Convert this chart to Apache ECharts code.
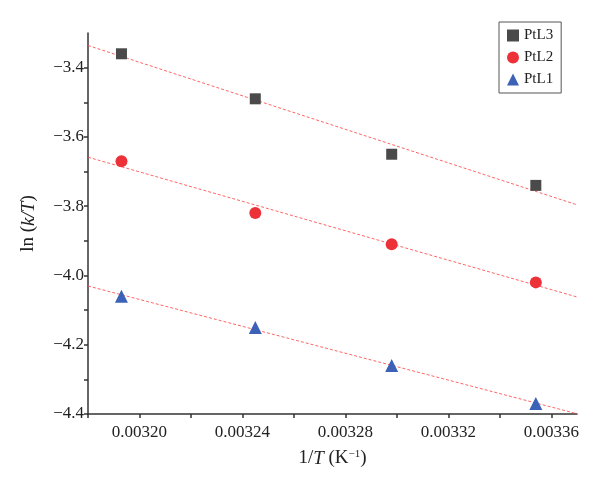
<!DOCTYPE html>
<html lang="en">
<head>
    <meta charset="UTF-8">
    <title>ln(k/T) vs 1/T</title>
    <style>
        html, body { margin: 0; padding: 0; background: #fff; }
        #main { width: 600px; height: 487px; }
    </style>
    <script src="https://cdn.jsdelivr.net/npm/echarts@6/dist/echarts.min.js"></script>
</head>
<body>
    <div id="main"></div>
    <script>
        // data
        var invT = [0.003193, 0.003245, 0.003298, 0.003354];
        var ptl3 = [-3.36, -3.49, -3.65, -3.74];
        var ptl2 = [-3.67, -3.82, -3.91, -4.02];
        var ptl1 = [-4.06, -4.15, -4.26, -4.37];

        var xMin = 0.00318, xMax = 0.00337;
        var font = "'Liberation Serif', 'DejaVu Serif', serif";

        function pairs(ys) {
            return ys.map(function (y, i) { return [invT[i], y]; });
        }

        // least squares line across the x range
        function fit(ys) {
            var n = ys.length, mx = 0, my = 0;
            for (var i = 0; i < n; i++) { mx += invT[i] / n; my += ys[i] / n; }
            var sxy = 0, sxx = 0;
            for (var j = 0; j < n; j++) {
                sxy += (invT[j] - mx) * (ys[j] - my);
                sxx += (invT[j] - mx) * (invT[j] - mx);
            }
            var k = sxy / sxx, b = my - k * mx;
            return [[xMin, k * xMin + b], [xMax, k * xMax + b]];
        }

        function fitLine(ys) {
            return {
                type: 'line',
                data: fit(ys),
                showSymbol: false,
                silent: true,
                z: 1,
                lineStyle: { color: '#ff4a4a', width: 1, type: [3, 2], opacity: 0.85 }
            };
        }

        var chart = echarts.init(document.getElementById('main'));
        chart.setOption({
            animation: false,
            textStyle: { fontFamily: font },
            grid: { left: 88, right: 23, top: 33, bottom: 73 },
            legend: {
                data: ['PtL3', 'PtL2', 'PtL1'],
                orient: 'vertical',
                left: 499,
                top: 22,
                padding: [6, 8, 6, 8],
                itemGap: 7,
                itemWidth: 12,
                itemHeight: 12,
                borderColor: '#555',
                borderWidth: 1,
                textStyle: { fontFamily: font, fontSize: 15, color: '#222' }
            },
            xAxis: {
                type: 'value',
                min: xMin,
                max: xMax,
                interval: 0.00002,
                name: '1/{i|T} (K{s|−1})',
                nameLocation: 'middle',
                nameGap: 35,
                nameTextStyle: {
                    fontFamily: font, fontSize: 19, color: '#222',
                    rich: {
                        i: { fontFamily: font, fontSize: 19, fontStyle: 'italic', color: '#222' },
                        s: { fontFamily: font, fontSize: 11, color: '#222', padding: [0, 0, 8, 0] }
                    }
                },
                splitLine: { show: false },
                axisLine: { lineStyle: { color: '#333', width: 1.5 } },
                axisTick: { length: 4, lineStyle: { color: '#333', width: 1.5 } },
                axisLabel: {
                    fontFamily: font, fontSize: 17, color: '#222', margin: 10,
                    showMaxLabel: false,
                    formatter: function (v) {
                        return Math.round(v / 0.00002) % 2 === 0 ? v.toFixed(5) : '';
                    }
                }
            },
            yAxis: {
                type: 'value',
                min: -4.4,
                max: -3.3,
                interval: 0.1,
                name: 'ln ({i|k/T})',
                nameLocation: 'middle',
                nameGap: 50,
                nameTextStyle: {
                    fontFamily: font, fontSize: 19, color: '#222',
                    rich: {
                        i: { fontFamily: font, fontSize: 19, fontStyle: 'italic', color: '#222' }
                    }
                },
                splitLine: { show: false },
                axisLine: { show: true, lineStyle: { color: '#333', width: 1.5 } },
                axisTick: { show: true, length: 4, lineStyle: { color: '#333', width: 1.5 } },
                axisLabel: {
                    fontFamily: font, fontSize: 17, color: '#222', margin: 4,
                    showMaxLabel: false,
                    formatter: function (v) {
                        var n = Math.round(v * 10);
                        return n % 2 === 0 ? '−' + Math.abs(v).toFixed(1) : '';
                    }
                }
            },
            series: [
                fitLine(ptl3),
                fitLine(ptl2),
                fitLine(ptl1),
                {
                    name: 'PtL3', type: 'scatter', symbol: 'rect', symbolSize: 11, z: 3,
                    itemStyle: { color: '#4a4a4a', opacity: 1 },
                    data: pairs(ptl3)
                },
                {
                    name: 'PtL2', type: 'scatter', symbol: 'circle', symbolSize: 12, z: 3,
                    itemStyle: { color: '#ec3238', opacity: 1 },
                    data: pairs(ptl2)
                },
                {
                    name: 'PtL1', type: 'scatter', symbol: 'triangle', symbolSize: 13, z: 3,
                    itemStyle: { color: '#3b62b6', opacity: 1 },
                    data: pairs(ptl1)
                }
            ]
        });
    </script>
</body>
</html>
